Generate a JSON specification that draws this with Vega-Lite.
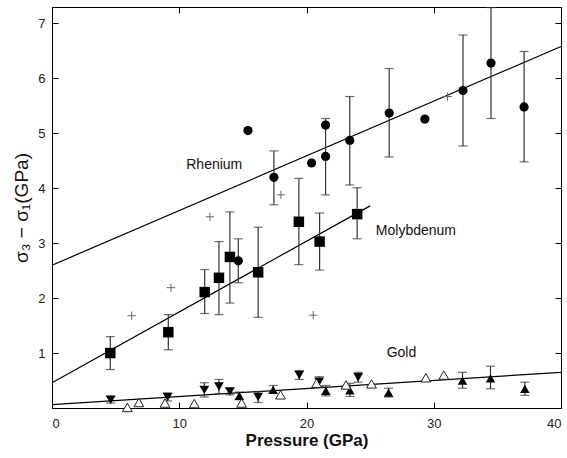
{
  "$schema": "https://vega.github.io/schema/vega-lite/v6.json",
  "width": 509,
  "height": 401,
  "autosize": "none",
  "padding": {"left": 52, "top": 7, "right": 6, "bottom": 50},
  "background": "white",
  "config": {
    "view": {"stroke": "black", "strokeWidth": 1},
    "font": "Liberation Sans",
    "axis": {
      "grid": false,
      "domainColor": "black",
      "tickColor": "black",
      "tickSize": -6,
      "tickWidth": 1,
      "labelFont": "Liberation Sans",
      "labelFontSize": 13,
      "labelColor": "#222",
      "titleFont": "Liberation Sans",
      "titleColor": "#111",
      "titleFontWeight": "normal"
    }
  },
  "datasets": {
    "pts": [
      {"s": "Re", "x": 15.4, "y": 5.05, "lo": null, "hi": null},
      {"s": "Re", "x": 17.44, "y": 4.2, "lo": 3.7, "hi": 4.68},
      {"s": "Re", "x": 20.4, "y": 4.46, "lo": null, "hi": null},
      {"s": "Re", "x": 21.5, "y": 5.15, "lo": null, "hi": null},
      {"s": "Re", "x": 21.5, "y": 4.58, "lo": 3.88, "hi": 5.27},
      {"s": "Re", "x": 23.4, "y": 4.87, "lo": 4.06, "hi": 5.67},
      {"s": "Re", "x": 26.5, "y": 5.37, "lo": 4.57, "hi": 6.18},
      {"s": "Re", "x": 29.3, "y": 5.26, "lo": null, "hi": null},
      {"s": "Re", "x": 32.3, "y": 5.78, "lo": 4.77, "hi": 6.79},
      {"s": "Re", "x": 34.5, "y": 6.28, "lo": 5.27, "hi": 7.29},
      {"s": "Re", "x": 37.1, "y": 5.48, "lo": 4.48, "hi": 6.49},
      {"s": "Re", "x": 14.64, "y": 2.68, "lo": 2.28, "hi": 3.08},
      {"s": "Mo", "x": 4.58, "y": 1.0, "lo": 0.7, "hi": 1.3},
      {"s": "Mo", "x": 9.14, "y": 1.38, "lo": 1.06, "hi": 1.7},
      {"s": "Mo", "x": 12.0, "y": 2.11, "lo": 1.72, "hi": 2.52},
      {"s": "Mo", "x": 13.12, "y": 2.37, "lo": 1.7, "hi": 3.03},
      {"s": "Mo", "x": 13.98, "y": 2.75, "lo": 1.91, "hi": 3.57},
      {"s": "Mo", "x": 16.2, "y": 2.47, "lo": 1.65, "hi": 3.29},
      {"s": "Mo", "x": 19.4, "y": 3.39, "lo": 2.61, "hi": 4.18},
      {"s": "Mo", "x": 21.03, "y": 3.03, "lo": 2.51, "hi": 3.55},
      {"s": "Mo", "x": 23.98, "y": 3.53, "lo": 3.08, "hi": 4.01},
      {"s": "cross", "x": 6.26, "y": 1.68, "lo": null, "hi": null},
      {"s": "cross", "x": 9.35, "y": 2.19, "lo": null, "hi": null},
      {"s": "cross", "x": 12.41, "y": 3.48, "lo": null, "hi": null},
      {"s": "cross", "x": 17.99, "y": 3.88, "lo": null, "hi": null},
      {"s": "cross", "x": 20.53, "y": 1.69, "lo": null, "hi": null},
      {"s": "cross", "x": 31.08, "y": 5.67, "lo": null, "hi": null},
      {"s": "AuDown", "x": 4.61, "y": 0.15, "lo": 0.09, "hi": 0.21},
      {"s": "AuDown", "x": 9.09, "y": 0.2, "lo": 0.13, "hi": 0.27},
      {"s": "AuDown", "x": 11.97, "y": 0.33, "lo": 0.2, "hi": 0.46},
      {"s": "AuDown", "x": 13.12, "y": 0.39, "lo": 0.26, "hi": 0.52},
      {"s": "AuDown", "x": 13.98, "y": 0.3, "lo": 0.24, "hi": 0.36},
      {"s": "AuDown", "x": 16.2, "y": 0.2, "lo": 0.1, "hi": 0.3},
      {"s": "AuDown", "x": 19.43, "y": 0.6, "lo": 0.52, "hi": 0.68},
      {"s": "AuDown", "x": 21.0, "y": 0.48, "lo": 0.39, "hi": 0.57},
      {"s": "AuDown", "x": 24.06, "y": 0.56, "lo": 0.47, "hi": 0.65},
      {"s": "AuUp", "x": 14.72, "y": 0.22, "lo": 0.15, "hi": 0.29},
      {"s": "AuUp", "x": 17.38, "y": 0.33, "lo": 0.27, "hi": 0.41},
      {"s": "AuUp", "x": 21.52, "y": 0.31, "lo": 0.22, "hi": 0.41},
      {"s": "AuUp", "x": 23.41, "y": 0.32, "lo": 0.21, "hi": 0.45},
      {"s": "AuUp", "x": 26.45, "y": 0.28, "lo": 0.2, "hi": 0.36},
      {"s": "AuUp", "x": 32.26, "y": 0.5, "lo": 0.36, "hi": 0.65},
      {"s": "AuUp", "x": 34.46, "y": 0.54, "lo": 0.35, "hi": 0.76},
      {"s": "AuUp", "x": 37.16, "y": 0.35, "lo": 0.23, "hi": 0.47},
      {"s": "AuOpen", "x": 5.92, "y": 0.01, "lo": null, "hi": null},
      {"s": "AuOpen", "x": 6.83, "y": 0.1, "lo": null, "hi": null},
      {"s": "AuOpen", "x": 8.88, "y": 0.09, "lo": null, "hi": null},
      {"s": "AuOpen", "x": 11.18, "y": 0.08, "lo": null, "hi": null},
      {"s": "AuOpen", "x": 14.9, "y": 0.09, "lo": null, "hi": null},
      {"s": "AuOpen", "x": 17.96, "y": 0.24, "lo": null, "hi": null},
      {"s": "AuOpen", "x": 20.79, "y": 0.45, "lo": null, "hi": null},
      {"s": "AuOpen", "x": 23.1, "y": 0.42, "lo": null, "hi": null},
      {"s": "AuOpen", "x": 25.11, "y": 0.44, "lo": null, "hi": null},
      {"s": "AuOpen", "x": 29.38, "y": 0.55, "lo": null, "hi": null},
      {"s": "AuOpen", "x": 30.79, "y": 0.6, "lo": null, "hi": null}
    ],
    "fits": [
      {"metal": "Rhenium", "x": 0, "y": 2.6},
      {"metal": "Rhenium", "x": 40, "y": 6.58},
      {"metal": "Molybdenum", "x": 0, "y": 0.46},
      {"metal": "Molybdenum", "x": 25, "y": 3.68},
      {"metal": "Gold", "x": 0, "y": 0.06},
      {"metal": "Gold", "x": 40, "y": 0.65}
    ],
    "labels": [
      {"label": "Rhenium", "x": 10.55, "y": 4.42},
      {"label": "Molybdenum", "x": 25.45, "y": 3.22},
      {"label": "Gold", "x": 26.3, "y": 1.0}
    ]
  },
  "resolve": {"axis": {"x": "independent", "y": "independent"}},
  "layer": [
    {
      "data": {"name": "fits"},
      "mark": {"type": "line", "color": "black", "strokeWidth": 1.2},
      "encoding": {
        "x": {"field": "x", "type": "quantitative", "scale": {"domain": [0, 40], "nice": false},
              "axis": {"orient": "bottom", "values": [0, 10, 20, 30, 40], "title": "Pressure (GPa)", "titleFontSize": 17, "titleFontWeight": "bold", "labelPadding": 15, "titlePadding": 2}},
        "y": {"field": "y", "type": "quantitative", "scale": {"domain": [0, 7.3], "nice": false},
              "axis": {"orient": "left", "values": [1, 2, 3, 4, 5, 6, 7], "title": "σ₃ − σ₁(GPa)", "titleFontSize": 19, "labelPadding": 13, "titlePadding": 6}},
        "detail": {"field": "metal"}
      }
    },
    {
      "data": {"name": "labels"},
      "mark": {"type": "text", "align": "left", "baseline": "middle", "fontSize": 14, "font": "Liberation Sans", "color": "#111"},
      "encoding": {
        "x": {"field": "x", "type": "quantitative", "scale": {"domain": [0, 40], "nice": false},
              "axis": {"orient": "top", "values": [10, 20, 30], "labels": false, "title": null}},
        "y": {"field": "y", "type": "quantitative", "scale": {"domain": [0, 7.3], "nice": false},
              "axis": {"orient": "right", "values": [1, 2, 3, 4, 5, 6, 7], "labels": false, "title": null}},
        "text": {"field": "label"}
      }
    },
    {
      "data": {"name": "pts"},
      "transform": [{"filter": "datum.lo != null"}],
      "mark": {"type": "rule", "color": "#333", "strokeWidth": 1.2},
      "encoding": {
        "x": {"field": "x", "type": "quantitative", "scale": {"domain": [0, 40], "nice": false}, "axis": null},
        "y": {"field": "lo", "type": "quantitative", "scale": {"domain": [0, 7.3], "nice": false}, "axis": null},
        "y2": {"field": "hi"}
      }
    },
    {
      "data": {"name": "pts"},
      "transform": [{"filter": "datum.lo != null"}],
      "mark": {"type": "tick", "orient": "horizontal", "color": "#333", "size": 9, "thickness": 1.2},
      "encoding": {
        "x": {"field": "x", "type": "quantitative", "scale": {"domain": [0, 40], "nice": false}, "axis": null},
        "y": {"field": "hi", "type": "quantitative", "scale": {"domain": [0, 7.3], "nice": false}, "axis": null}
      }
    },
    {
      "data": {"name": "pts"},
      "transform": [{"filter": "datum.lo != null"}],
      "mark": {"type": "tick", "orient": "horizontal", "color": "#333", "size": 9, "thickness": 1.2},
      "encoding": {
        "x": {"field": "x", "type": "quantitative", "scale": {"domain": [0, 40], "nice": false}, "axis": null},
        "y": {"field": "lo", "type": "quantitative", "scale": {"domain": [0, 7.3], "nice": false}, "axis": null}
      }
    },
    {
      "data": {"name": "pts"},
      "transform": [{"filter": "datum.s == 'Re'"}],
      "mark": {"type": "point", "shape": "circle", "filled": true, "color": "black", "size": 85, "opacity": 1},
      "encoding": {
        "x": {"field": "x", "type": "quantitative", "scale": {"domain": [0, 40], "nice": false}, "axis": null},
        "y": {"field": "y", "type": "quantitative", "scale": {"domain": [0, 7.3], "nice": false}, "axis": null}
      }
    },
    {
      "data": {"name": "pts"},
      "transform": [{"filter": "datum.s == 'Mo'"}],
      "mark": {"type": "point", "shape": "square", "filled": true, "color": "black", "size": 110, "opacity": 1},
      "encoding": {
        "x": {"field": "x", "type": "quantitative", "scale": {"domain": [0, 40], "nice": false}, "axis": null},
        "y": {"field": "y", "type": "quantitative", "scale": {"domain": [0, 7.3], "nice": false}, "axis": null}
      }
    },
    {
      "data": {"name": "pts"},
      "transform": [{"filter": "datum.s == 'cross'"}],
      "mark": {"type": "point", "shape": "M-1,0H1M0,-1V1", "filled": false, "color": "#666", "strokeWidth": 1, "size": 70, "opacity": 1},
      "encoding": {
        "x": {"field": "x", "type": "quantitative", "scale": {"domain": [0, 40], "nice": false}, "axis": null},
        "y": {"field": "y", "type": "quantitative", "scale": {"domain": [0, 7.3], "nice": false}, "axis": null}
      }
    },
    {
      "data": {"name": "pts"},
      "transform": [{"filter": "datum.s == 'AuDown'"}],
      "mark": {"type": "point", "shape": "triangle-down", "filled": true, "color": "black", "size": 95, "opacity": 1},
      "encoding": {
        "x": {"field": "x", "type": "quantitative", "scale": {"domain": [0, 40], "nice": false}, "axis": null},
        "y": {"field": "y", "type": "quantitative", "scale": {"domain": [0, 7.3], "nice": false}, "axis": null}
      }
    },
    {
      "data": {"name": "pts"},
      "transform": [{"filter": "datum.s == 'AuUp'"}],
      "mark": {"type": "point", "shape": "triangle-up", "filled": true, "color": "black", "size": 90, "opacity": 1},
      "encoding": {
        "x": {"field": "x", "type": "quantitative", "scale": {"domain": [0, 40], "nice": false}, "axis": null},
        "y": {"field": "y", "type": "quantitative", "scale": {"domain": [0, 7.3], "nice": false}, "axis": null}
      }
    },
    {
      "data": {"name": "pts"},
      "transform": [{"filter": "datum.s == 'AuOpen'"}],
      "mark": {"type": "point", "shape": "triangle-up", "filled": true, "fill": "white", "stroke": "#222", "strokeWidth": 1, "size": 95, "opacity": 1},
      "encoding": {
        "x": {"field": "x", "type": "quantitative", "scale": {"domain": [0, 40], "nice": false}, "axis": null},
        "y": {"field": "y", "type": "quantitative", "scale": {"domain": [0, 7.3], "nice": false}, "axis": null}
      }
    }
  ]
}
